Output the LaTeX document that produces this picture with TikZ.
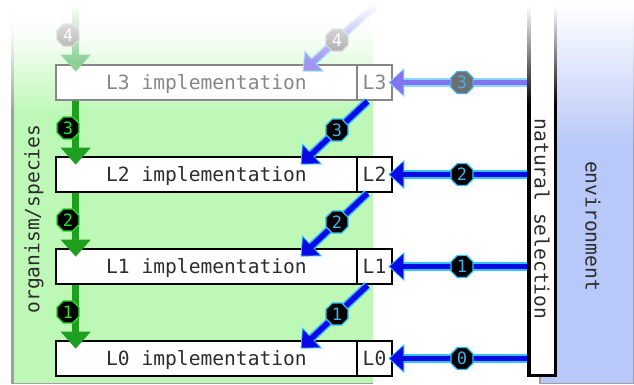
\documentclass[tikz,border=0pt]{standalone}
\usepackage{fontspec}
\setmonofont{DejaVu Sans Mono}
\usetikzlibrary{arrows.meta,shapes.geometric,calc}

\definecolor{orgfill}{RGB}{190,248,182}
\definecolor{envfill}{RGB}{184,200,248}
\definecolor{panelline}{RGB}{160,160,160}
\definecolor{inkgrey}{RGB}{45,45,45}
\definecolor{oldgrey}{RGB}{135,135,135}
\definecolor{selgreen}{RGB}{30,160,30}
\definecolor{badgegreen}{RGB}{40,225,40}
\definecolor{flowblue}{RGB}{10,10,228}
\definecolor{flowcyan}{RGB}{50,195,250}
\definecolor{badgecyan}{RGB}{70,175,230}
\definecolor{oldblue}{RGB}{130,115,240}
\definecolor{oldcyan}{RGB}{140,215,255}
\definecolor{oldbadge}{RGB}{110,110,110}
\definecolor{paleblue}{RGB}{160,150,240}
\definecolor{palecyan}{RGB}{160,222,255}
\definecolor{palegreen}{RGB}{140,208,150}
\definecolor{palebadge}{RGB}{160,160,160}

\newcommand\lblfont{\fontsize{19.6}{20}\selectfont\ttfamily}
\newcommand\badgefnt{\fontsize{17}{17}\selectfont\ttfamily}

\tikzset{
  implbox/.style={draw=black, fill=white, line width=2.6, minimum width=301,
    minimum height=35, inner sep=0, text height=14.3pt, text depth=0pt,
    font=\lblfont, text=inkgrey},
  tagbox/.style={implbox, minimum width=35},
  oldbox/.style={draw=oldgrey, text=oldgrey},
  badge/.style={regular polygon, regular polygon sides=8, minimum size=24,
    inner sep=0, fill=black, line width=1.3, font=\badgefnt,
    text height=12.4pt, text depth=0pt},
  gbadge/.style={badge, draw=badgegreen, text=badgegreen},
  bbadge/.style={badge, draw=flowcyan, text=badgecyan},
  obadge/.style={badge, fill=oldbadge, draw=badgecyan, text=badgecyan},
  pbadge/.style={badge, fill=palebadge, draw=palebadge!60!white, text=white},
  garrow/.style={draw=selgreen, line width=7.5, shorten >=-9pt,
    -{Triangle[length=17pt,width=29pt]}},
  parrow/.style={draw=palegreen, line width=7.5, shorten >=-8pt,
    -{Triangle[length=17pt,width=29pt]}},
  barrow/.style={draw=flowblue, line width=5.5, shorten >=1.5pt,
    -{Triangle[length=13.5pt,width=24pt]},
    preaction={draw=flowcyan, line width=8.5, shorten >=0pt,
      -{Triangle[length=16pt,width=28pt]}}},
  oarrow/.style={draw=oldblue, line width=5.5, shorten >=1.5pt,
    -{Triangle[length=13.5pt,width=24pt]},
    preaction={draw=oldcyan, line width=8.5, shorten >=0pt,
      -{Triangle[length=16pt,width=28pt]}}},
  farrow/.style={draw=paleblue, line width=5.5, shorten >=1.5pt,
    -{Triangle[length=13.5pt,width=24pt]},
    preaction={draw=palecyan, line width=8.5, shorten >=0pt,
      -{Triangle[length=16pt,width=28pt]}}},
  sidetext/.style={font=\lblfont, text=inkgrey, inner sep=0}
}

\begin{document}
\begin{tikzpicture}[x=1pt,y=-1pt]
\useasboundingbox (0,0) rectangle (634,385);

% organism/species panel: white at the top blending into green
\foreach \k in {0,...,52}{
  \pgfmathsetmacro\pc{100*((\k+0.5)/53)^1.4}
  \fill[orgfill!\pc!white] (12,6+2*\k) rectangle (373,8.6+2*\k);
  \fill[panelline!\pc!white] (11,6+2*\k) rectangle (13.5,8.6+2*\k);
}
\fill[orgfill] (12,111) rectangle (373,383);
\fill[panelline] (11,111) rectangle (13.5,384);
\fill[panelline] (11,382.5) rectangle (373,384);

% environment panel
\foreach \k in {0,...,69}{
  \pgfmathsetmacro\pc{100*(\k+0.5)/70}
  \fill[envfill!\pc!white] (540,6+2*\k) rectangle (633,8.6+2*\k);
  \fill[panelline!\pc!white] (632.5,6+2*\k) rectangle (634,8.6+2*\k);
}
\fill[envfill] (540,145) rectangle (633,383);
\fill[panelline] (632.5,145) rectangle (634,384);
\fill[panelline] (539,382.5) rectangle (634,384);
\fill[panelline] (539,370) rectangle (540.5,384);

% natural selection bar, its sides darkening downwards
\fill[white] (528,6) rectangle (556,376);
\foreach \k in {0,...,49}{
  \pgfmathsetmacro\pc{100*(\k+0.5)/50}
  \fill[black!\pc!white] (527,6+2*\k) rectangle (530.5,8.6+2*\k);
  \fill[black!\pc!white] (553.5,6+2*\k) rectangle (557,8.6+2*\k);
}
\fill[black] (527,106) rectangle (530.5,377);
\fill[black] (553.5,106) rectangle (557,377);
\fill[black] (527,373.5) rectangle (557,377);
\coordinate (barleft) at (527,0);

% side labels
\node[sidetext, rotate=90] (org) at (34,219) {organism/species};
\node[sidetext, rotate=-90] (sel) at (542,219) {natural selection};
\node[sidetext, rotate=-90] (env) at (593,226) {environment};

% implementation levels
\node[implbox, oldbox] (i3) at (206.5,82.5) {L3 implementation};
\node[tagbox, oldbox] (t3) at (374.5,82.5) {L3};
\node[implbox] (i2) at (206.5,174.5) {L2 implementation};
\node[tagbox] (t2) at (374.5,174.5) {L2};
\node[implbox] (i1) at (206.5,266.5) {L1 implementation};
\node[tagbox] (t1) at (374.5,266.5) {L1};
\node[implbox] (i0) at (206.5,358.5) {L0 implementation};
\node[tagbox] (t0) at (374.5,358.5) {L0};

% level after L3, still to come
\coordinate (gcol) at ([xshift=21pt]i3.north west);
\coordinate (nextorg) at ([yshift=58pt]gcol);
\coordinate (nextsel) at (376,5);
\coordinate (b4pos) at (337,40);
\coordinate (g4pos) at (68,35);
\coordinate (g4line) at (gcol |- g4pos);

\draw[line width=7.5, draw=palegreen] (nextorg) -- (g4line);
\draw[parrow] (g4line) -- (gcol);
\node[pbadge] (g4) at (g4pos) {4};
\draw[line width=8.5, draw=palecyan] (nextsel) -- (b4pos);
\draw[line width=5.5, draw=paleblue] (nextsel) -- (b4pos);
\draw[farrow] (b4pos) -- ([xshift=96pt,yshift=-8pt]i3.north);
\node[pbadge] (b4) at (b4pos) {4};

% white veil over the top of the column, thinning out downwards
\foreach \k in {0,...,28}{
  \pgfmathsetmacro\op{1-(\k+0.5)/29}
  \fill[white, fill opacity=\op] (0,4+2*\k) rectangle (392,6+2*\k);
}
\fill[white] (0,0) rectangle (392,4);

% inheritance down the organism column
\draw[garrow] ([xshift=21pt]i3.south west) -- ([xshift=21pt]i2.north west);
\draw[garrow] ([xshift=21pt]i2.south west) -- ([xshift=21pt]i1.north west);
\draw[garrow] ([xshift=21pt]i1.south west) -- ([xshift=21pt]i0.north west);
\node[gbadge] (g3) at (68,128) {3};
\node[gbadge] (g2) at (68,220) {2};
\node[gbadge] (g1) at (68,312) {1};

% selected levels feeding the next implementation
\draw[barrow] ([xshift=-7pt]t3.south) -- ([xshift=94pt,yshift=-9pt]i2.north);
\draw[barrow] ([xshift=-7pt]t2.south) -- ([xshift=94pt,yshift=-9pt]i1.north);
\draw[barrow] ([xshift=-7pt]t1.south) -- ([xshift=94pt,yshift=-9pt]i0.north);
\node[bbadge] (d3) at (337,130) {3};
\node[bbadge] (d2) at (337,222) {2};
\node[bbadge] (d1) at (337,314) {1};

% natural selection acting on each level
\draw[oarrow] (t3.east -| barleft) -- ([xshift=-5pt]t3.east);
\draw[barrow] (t2.east -| barleft) -- ([xshift=-5pt]t2.east);
\draw[barrow] (t1.east -| barleft) -- ([xshift=-5pt]t1.east);
\draw[barrow] (t0.east -| barleft) -- ([xshift=-5pt]t0.east);
\node[obadge] (s3) at (462,82.5) {3};
\node[bbadge] (s2) at (462,174.5) {2};
\node[bbadge] (s1) at (462,266.5) {1};
\node[bbadge] (s0) at (462,358.5) {0};
\end{tikzpicture}
\end{document}
